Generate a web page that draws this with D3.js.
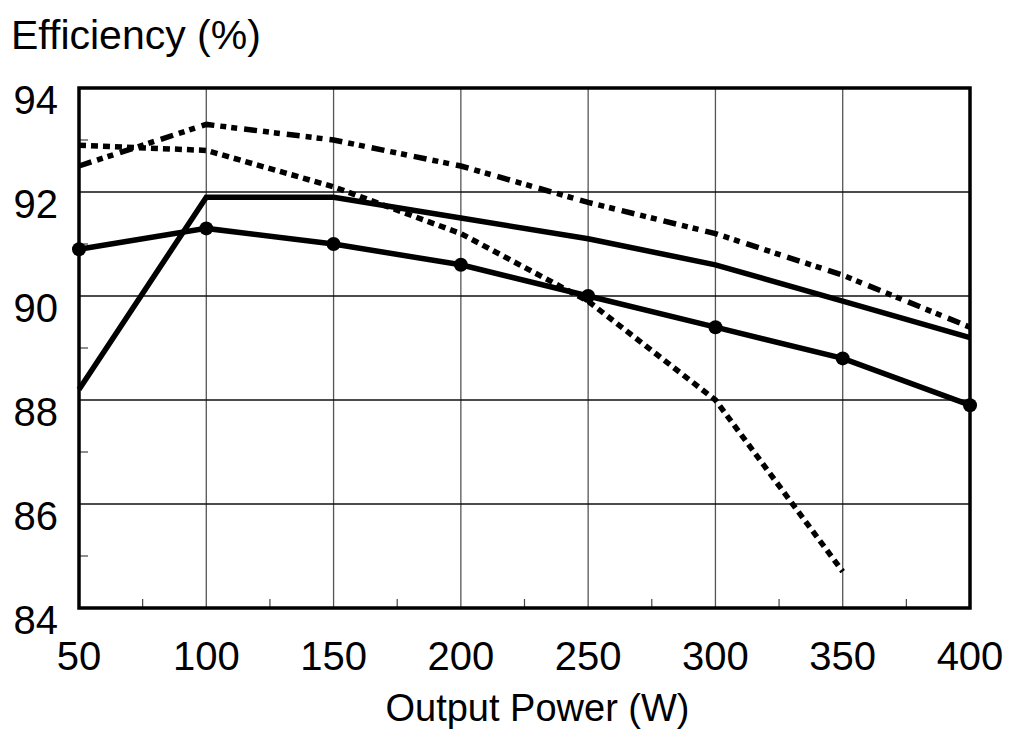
<!DOCTYPE html>
<html>
<head>
<meta charset="utf-8">
<script src="https://cdn.jsdelivr.net/npm/d3@7"></script>
<style>
  body { margin: 0; background: #fff; }
  text { font-family: "Liberation Sans", Arial, sans-serif; fill: #000; }
</style>
</head>
<body>
<div id="chart"></div>
<script>
// output power (W)
var powers = [50, 100, 150, 200, 250, 300, 350, 400];

// efficiency curves (%)
var dashedSeries  = [92.9, 92.8, 92.1, 91.2, 89.9, 88.0, 84.7];
var dashDotSeries = [92.5, 93.3, 93.0, 92.5, 91.8, 91.2, 90.4, 89.4];
var solidSeries   = [88.2, 91.9, 91.9, 91.5, 91.1, 90.6, 89.9, 89.2];
var markerSeries  = [90.9, 91.3, 91.0, 90.6, 90.0, 89.4, 88.8, 87.9];

var xTicks = [50, 100, 150, 200, 250, 300, 350, 400];
var yTicks = [84, 86, 88, 90, 92, 94];

var width = 1011, height = 732;
var margin = {left: 79, right: 41, top: 88, bottom: 124};

var svg = d3.select("#chart")
    .append("svg")
    .attr("width", width)
    .attr("height", height);

var x = d3.scaleLinear().domain([50, 400]).range([margin.left, width - margin.right]);
var y = d3.scaleLinear().domain([84, 94]).range([height - margin.bottom, margin.top]);

// grid lines
svg.selectAll("line.vgrid")
    .data(xTicks.slice(1, -1))
    .enter().append("line")
    .attr("x1", d => x(d)).attr("x2", d => x(d))
    .attr("y1", y(94)).attr("y2", y(84))
    .attr("stroke", "#555").attr("stroke-width", 1.3);

svg.selectAll("line.hgrid")
    .data(yTicks.slice(1, -1))
    .enter().append("line")
    .attr("x1", x(50)).attr("x2", x(400))
    .attr("y1", d => y(d)).attr("y2", d => y(d))
    .attr("stroke", "#111").attr("stroke-width", 1.3);

// minor ticks
var xMinor = d3.range(75, 400, 50);
svg.selectAll("line.xminor")
    .data(xMinor)
    .enter().append("line")
    .attr("x1", d => x(d)).attr("x2", d => x(d))
    .attr("y1", y(84)).attr("y2", y(84) - 9)
    .attr("stroke", "#444").attr("stroke-width", 1.2);

var yMinor = d3.range(85, 94, 2);
svg.selectAll("line.yminor")
    .data(yMinor)
    .enter().append("line")
    .attr("x1", x(50)).attr("x2", x(50) + 9)
    .attr("y1", d => y(d)).attr("y2", d => y(d))
    .attr("stroke", "#444").attr("stroke-width", 1.2);

// curves
var line = d3.line()
    .x((d, i) => x(powers[i]))
    .y(d => y(d));

svg.append("path")
    .datum(dashedSeries)
    .attr("d", line)
    .attr("fill", "none")
    .attr("stroke", "#000")
    .attr("stroke-width", 5.5)
    .attr("stroke-dasharray", "7,5");

svg.append("path")
    .datum(dashDotSeries)
    .attr("d", line)
    .attr("fill", "none")
    .attr("stroke", "#000")
    .attr("stroke-width", 5.5)
    .attr("stroke-dasharray", "13,6,6,5,6,7");

svg.append("path")
    .datum(solidSeries)
    .attr("d", line)
    .attr("fill", "none")
    .attr("stroke", "#000")
    .attr("stroke-width", 5.5);

svg.append("path")
    .datum(markerSeries)
    .attr("d", line)
    .attr("fill", "none")
    .attr("stroke", "#000")
    .attr("stroke-width", 5.5);

svg.selectAll("circle.pt")
    .data(markerSeries)
    .enter().append("circle")
    .attr("cx", (d, i) => x(powers[i]))
    .attr("cy", d => y(d))
    .attr("r", 7)
    .attr("fill", "#000");

// frame
svg.append("rect")
    .attr("x", x(50)).attr("y", y(94))
    .attr("width", x(400) - x(50)).attr("height", y(84) - y(94))
    .attr("fill", "none")
    .attr("stroke", "#000")
    .attr("stroke-width", 3.5);

// tick labels
svg.selectAll("text.ylab")
    .data(yTicks)
    .enter().append("text")
    .attr("x", 58)
    .attr("y", d => y(d) + 26)
    .attr("text-anchor", "end")
    .style("font-size", "40px")
    .text(d => d);

svg.selectAll("text.xlab")
    .data(xTicks)
    .enter().append("text")
    .attr("x", d => x(d))
    .attr("y", 670)
    .attr("text-anchor", "middle")
    .style("font-size", "40px")
    .text(d => d);

// axis titles
svg.append("text")
    .attr("x", 11).attr("y", 49)
    .style("font-size", "41px")
    .text("Efficiency (%)");

svg.append("text")
    .attr("x", (x(50) + x(400)) / 2 + 13).attr("y", 721)
    .attr("text-anchor", "middle")
    .style("font-size", "38px")
    .text("Output Power (W)");
</script>
</body>
</html>
